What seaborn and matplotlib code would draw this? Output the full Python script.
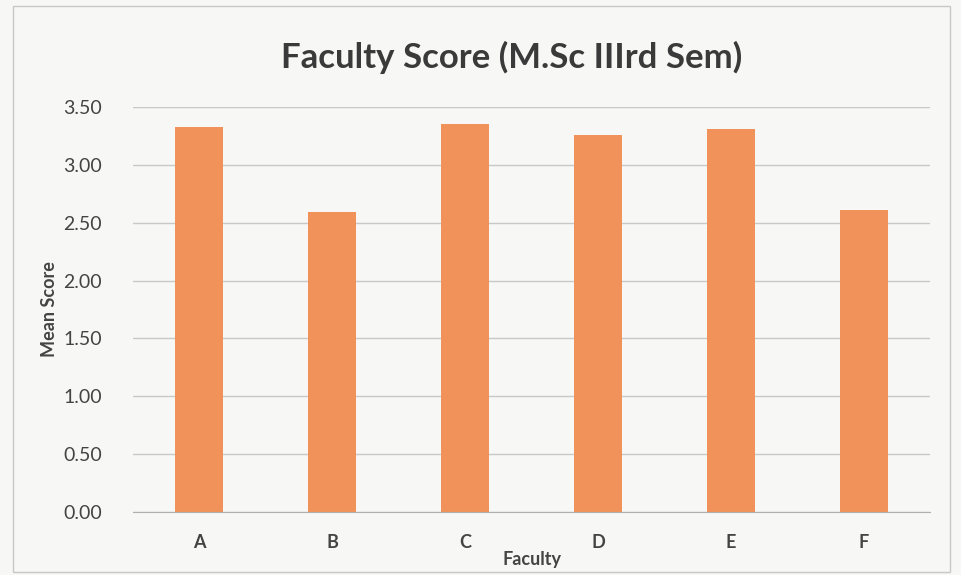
import numpy as np
import pandas as pd

import matplotlib.pyplot as plt
from matplotlib.patches import Rectangle
import seaborn as sns
sns.set_style("white")
plt.rcParams["font.family"] = ["Lato", "DejaVu Sans"]

# values
faculty = ["A", "B", "C", "D", "E", "F"]
mean_score = [3.33, 2.59, 3.35, 3.26, 3.31, 2.61]
y_ticks = [0.0, 0.5, 1.0, 1.5, 2.0, 2.5, 3.0, 3.5]

df = pd.DataFrame({"Faculty": faculty, "Mean Score": mean_score})

fig = plt.figure(figsize=(9.62, 5.75), dpi=100)
fig.patch.set_facecolor("#f7f7f5")
ax = fig.add_axes([0.138, 0.1096, 0.829, 0.7044])
ax.set_facecolor("#f7f7f5")

sns.barplot(data=df, x="Faculty", y="Mean Score", color="#f0925a",
            saturation=1, width=0.36, linewidth=0, ax=ax)

ax.set_ylim(0, 3.5)
ax.set_xlim(-0.5, 5.5)
ax.set_yticks(y_ticks)
ax.set_yticklabels([f"{v:.2f}" for v in y_ticks], fontsize=14, color="#444444")
ax.tick_params(axis="x", labelsize=13, colors="#444444", length=0, pad=16)
ax.tick_params(axis="y", length=0, pad=22)
for lbl in ax.get_xticklabels():
    lbl.set_fontweight("bold")

ax.yaxis.grid(True, color="#c8c8c8", linewidth=1)
ax.set_axisbelow(True)
for s in ["top", "right", "left"]:
    ax.spines[s].set_visible(False)
ax.spines["bottom"].set_color("#b0b0b0")
# category separators on the x axis
ax.set_xticks(np.arange(-0.5, 6, 1), minor=True)
ax.tick_params(axis="x", which="minor", length=5, color="#b0b0b0")

ax.set_xlabel("Faculty", fontsize=13, fontweight="bold", color="#444444", labelpad=0)
ax.set_ylabel("Mean Score", fontsize=13, fontweight="bold", color="#444444", labelpad=4)
fig.text(0.532, 0.9, "Faculty Score (M.Sc IIIrd Sem)", ha="center", va="center",
         fontsize=25, fontweight="bold", color="#3a3a3a")

fig.patches.append(Rectangle((0.013, 0.005), 0.975, 0.985, transform=fig.transFigure,
                             fill=False, edgecolor="#c8c8c8", linewidth=1))

fig.savefig("out.png", dpi=100)
